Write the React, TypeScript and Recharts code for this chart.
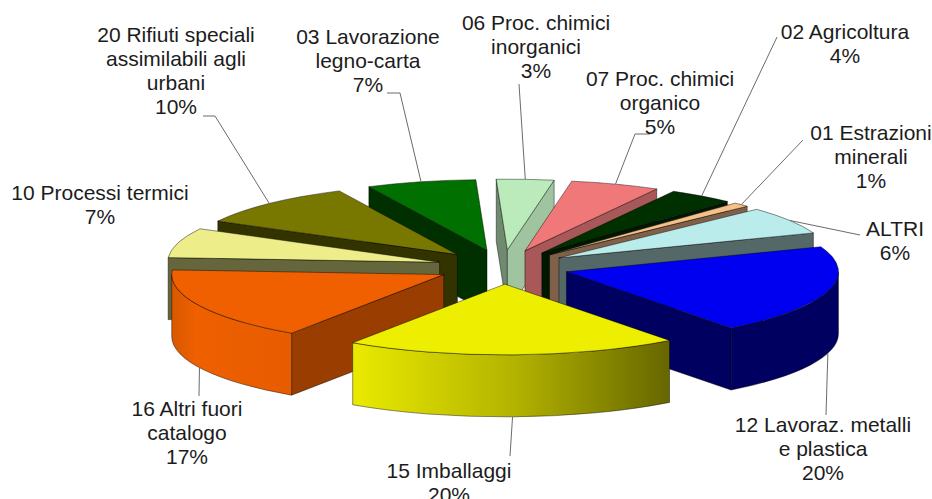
import React from 'react';
import { PieChart, Pie } from 'recharts';

// clockwise from the top right of the pie; "|" breaks the label line
const categories = [
  '12 Lavoraz. metalli|e plastica',
  '15 Imballaggi',
  '16 Altri fuori|catalogo',
  '10 Processi termici',
  '20 Rifiuti speciali|assimilabili agli|urbani',
  '03 Lavorazione|legno-carta',
  '06 Proc. chimici|inorganici',
  '07 Proc. chimici|organico',
  '02 Agricoltura',
  '01 Estrazioni|minerali',
  'ALTRI',
];
const values = [20.4, 19.8, 16.6, 6.8, 10, 6.5, 3.4, 5.3, 3.9, 1, 6.3];

const topColors = ['#0000f0', '#eeee00', '#f06000', '#eded8a', '#787800', '#007000', '#bbebbb', '#f07878', '#003000', '#f5c08a', '#bbecec'];
const wallColors = ['#000060', '#606000', '#993d00', '#66663d', '#333300', '#003000', '#a0c4a0', '#a85858', '#001800', '#806048', '#556868'];
const rimColors = ['#000060', 'url(#rimYellow)', 'url(#rimOrange)', '#66663d', '#333300', '#003000', '#a0c4a0', '#a85858', '#001800', '#806048', '#556868'];

// painter's order, back of the pie first
const drawOrder = [6, 5, 7, 8, 9, 10, 4, 3, 0, 2, 1];

// label layout: centre x, first baseline y, leader elbow points
const labelLayout = [
  { x: 823, y: 432, leader: [[826, 415]] },
  { x: 449, y: 478, leader: [[510, 456]] },
  { x: 187, y: 416, leader: [[199, 396]] },
  { x: 100, y: 200, leader: [] },
  { x: 176, y: 42, leader: [[215, 116], [203, 116]] },
  { x: 368, y: 44, leader: [[400, 93], [387, 93]] },
  { x: 536, y: 30, leader: [[519, 84]] },
  { x: 660, y: 86, leader: [[635, 134], [650, 134]] },
  { x: 845, y: 39, leader: [[777, 37]] },
  { x: 871, y: 140, leader: [[803, 140]] },
  { x: 895, y: 236, leader: [[860, 235]] },
];

const CX = 503;
const CY = 267;
const RADIUS = 272;
const SQUASH = 0.26;
const EXPLODE = 66;
const DEPTH = 62;
const LINE_HEIGHT = 24;

const tableData = categories.map((name, id) => ({ id, name, value: values[id] }));

// screen angle in degrees, clockwise from 3 o'clock
const project = (cx: number, cy: number, r: number, deg: number) => {
  const rad = (deg * Math.PI) / 180;
  return { x: cx + r * Math.cos(rad), y: cy + r * SQUASH * Math.sin(rad) };
};

const Slice = (props: any) => {
  const { cx, cy, outerRadius, startAngle, endAngle } = props;
  const id = props.payload.id;
  const a1 = -startAngle;
  const a2 = -endAngle;
  const apex = project(cx, cy, EXPLODE, (a1 + a2) / 2);
  const p1 = project(apex.x, apex.y, outerRadius, a1);
  const p2 = project(apex.x, apex.y, outerRadius, a2);
  const rx = outerRadius;
  const ry = outerRadius * SQUASH;
  const large = a2 - a1 > 180 ? 1 : 0;
  const edge = { stroke: '#000', strokeOpacity: 0.55, strokeWidth: 0.8 };

  const wall = (p: { x: number; y: number }) =>
    `M${apex.x},${apex.y} L${p.x},${p.y} L${p.x},${p.y + DEPTH} L${apex.x},${apex.y + DEPTH} Z`;

  const lo = Math.max(a1, 0);
  const hi = Math.min(a2, 180);
  let rim = null;
  if (lo < hi) {
    const r1 = project(apex.x, apex.y, outerRadius, lo);
    const r2 = project(apex.x, apex.y, outerRadius, hi);
    rim = `M${r1.x},${r1.y} A${rx},${ry} 0 0 1 ${r2.x},${r2.y} L${r2.x},${r2.y + DEPTH} A${rx},${ry} 0 0 0 ${r1.x},${r1.y + DEPTH} Z`;
  }
  const startVisible = Math.cos((a1 * Math.PI) / 180) < 0;
  const endVisible = Math.cos((a2 * Math.PI) / 180) > 0;

  return (
    <g>
      {startVisible && <path d={wall(p1)} fill={id === 6 ? '#6f8a6f' : wallColors[id]} {...edge} />}
      {endVisible && <path d={wall(p2)} fill={wallColors[id]} {...edge} />}
      {rim && <path d={rim} fill={rimColors[id]} {...edge} />}
      <path
        d={`M${apex.x},${apex.y} L${p1.x},${p1.y} A${rx},${ry} 0 ${large} 1 ${p2.x},${p2.y} Z`}
        fill={topColors[id]}
        {...edge}
      />
    </g>
  );
};

const renderLabel = (props: any) => {
  const { cx, cy, outerRadius, midAngle, value } = props;
  const id = props.payload ? props.payload.id : props.id;
  const layout = labelLayout[id];
  const lines = categories[id].split('|');
  const mid = -midAngle;
  const apex = project(cx, cy, EXPLODE, mid);
  const start = project(apex.x, apex.y, outerRadius, mid);
  const front = Math.sin((mid * Math.PI) / 180) > 0;
  const points = [[start.x, front ? start.y + DEPTH : start.y], ...layout.leader];
  return (
    <g key={id}>
      {layout.leader.length > 0 && (
        <polyline points={points.map((p) => p.join(',')).join(' ')} fill="none" stroke="#6b6b6b" strokeWidth={1} />
      )}
      <text
        x={layout.x}
        y={layout.y}
        textAnchor="middle"
        fontFamily="'Liberation Sans', Arial, sans-serif"
        fontSize={21}
        fill="#1c1c1c"
      >
        {[...lines, `${Math.round(value)}%`].map((line, i) => (
          <tspan key={i} x={layout.x} y={layout.y + i * LINE_HEIGHT}>
            {line}
          </tspan>
        ))}
      </text>
    </g>
  );
};

const pieProps = {
  data: tableData,
  dataKey: 'value',
  nameKey: 'name',
  cx: CX,
  cy: CY,
  innerRadius: 0,
  outerRadius: RADIUS,
  startAngle: 20.7,
  endAngle: -339.3,
  isAnimationActive: false,
};

export default function App() {
  return (
    <div style={{ position: 'absolute', left: 0, top: 0, width: 932, height: 499, background: '#fff', overflow: 'hidden' }}>
      <PieChart width={932} height={499} margin={{ top: 0, right: 0, bottom: 0, left: 0 }}>
        <defs>
          <linearGradient id="rimYellow" x1="0" y1="0" x2="1" y2="0">
            <stop offset="0" stopColor="#eaea00" />
            <stop offset="0.5" stopColor="#b4b400" />
            <stop offset="1" stopColor="#666600" />
          </linearGradient>
          <linearGradient id="rimOrange" x1="0" y1="0" x2="1" y2="0">
            <stop offset="0" stopColor="#d85800" />
            <stop offset="0.2" stopColor="#ee6000" />
            <stop offset="1" stopColor="#e85c00" />
          </linearGradient>
        </defs>
        {drawOrder.map((id) => (
          <Pie
            key={id}
            {...pieProps}
            shape={(p: any) => (p.payload.id === id ? <Slice {...p} /> : <g />)}
          />
        ))}
        <Pie key="labels" {...pieProps} shape={() => <g />} label={renderLabel} labelLine={false} />
      </PieChart>
    </div>
  );
}
